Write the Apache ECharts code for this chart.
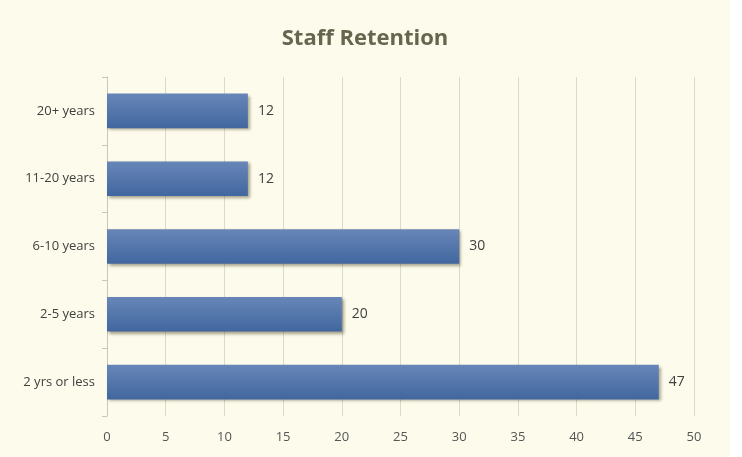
<!DOCTYPE html>
<html>
<head>
<meta charset="utf-8">
<script src="https://cdn.jsdelivr.net/npm/echarts@6/dist/echarts.min.js"></script>
<style>
    html, body { margin: 0; padding: 0; background: #ffffff; }
    #main { width: 730px; height: 457px; background: #fdfcec; }
</style>
</head>
<body>
<div id="main"></div>
<script>
const categories = ['2 yrs or less', '2-5 years', '6-10 years', '11-20 years', '20+ years'];
const values = [47, 20, 30, 12, 12];
const xTicks = { min: 0, max: 50, interval: 5 };

var chartDom = document.getElementById('main');
var myChart = echarts.init(chartDom);
var option;

option = {
    backgroundColor: '#fdfcec',
    title: {
        text: 'Staff Retention',
        left: 'center',
        top: 23,
        textStyle: {
            fontFamily: 'Open Sans',
            fontWeight: 'bold',
            fontSize: 22,
            color: '#66664f'
        }
    },
    grid: {
        left: 107,
        right: 36,
        top: 77,
        bottom: 41
    },
    xAxis: {
        type: 'value',
        min: xTicks.min,
        max: xTicks.max,
        interval: xTicks.interval,
        axisLine: { show: false },
        axisTick: { show: false },
        splitLine: { lineStyle: { color: '#dcdac8', width: 1 } },
        axisLabel: {
            color: '#555555',
            fontFamily: 'Open Sans',
            fontSize: 13,
            margin: 15
        }
    },
    yAxis: {
        type: 'category',
        data: categories,
        axisLine: { show: true, lineStyle: { color: '#c9c7b5' } },
        axisTick: { show: true, length: 5, lineStyle: { color: '#c9c7b5' } },
        axisLabel: {
            color: '#404040',
            fontFamily: 'Open Sans',
            fontSize: 13,
            margin: 12
        }
    },
    series: [
        {
            type: 'bar',
            data: values,
            barWidth: '51%',
            itemStyle: {
                color: new echarts.graphic.LinearGradient(0, 0, 0, 1, [
                    { offset: 0, color: '#6886b8' },
                    { offset: 1, color: '#41679f' }
                ]),
                shadowColor: 'rgba(60, 50, 20, 0.45)',
                shadowBlur: 3,
                shadowOffsetX: 2,
                shadowOffsetY: 2
            },
            label: {
                show: true,
                position: 'right',
                distance: 10,
                color: '#404040',
                fontFamily: 'Open Sans',
                fontSize: 14
            }
        }
    ]
};

option && myChart.setOption(option);
</script>
</body>
</html>
